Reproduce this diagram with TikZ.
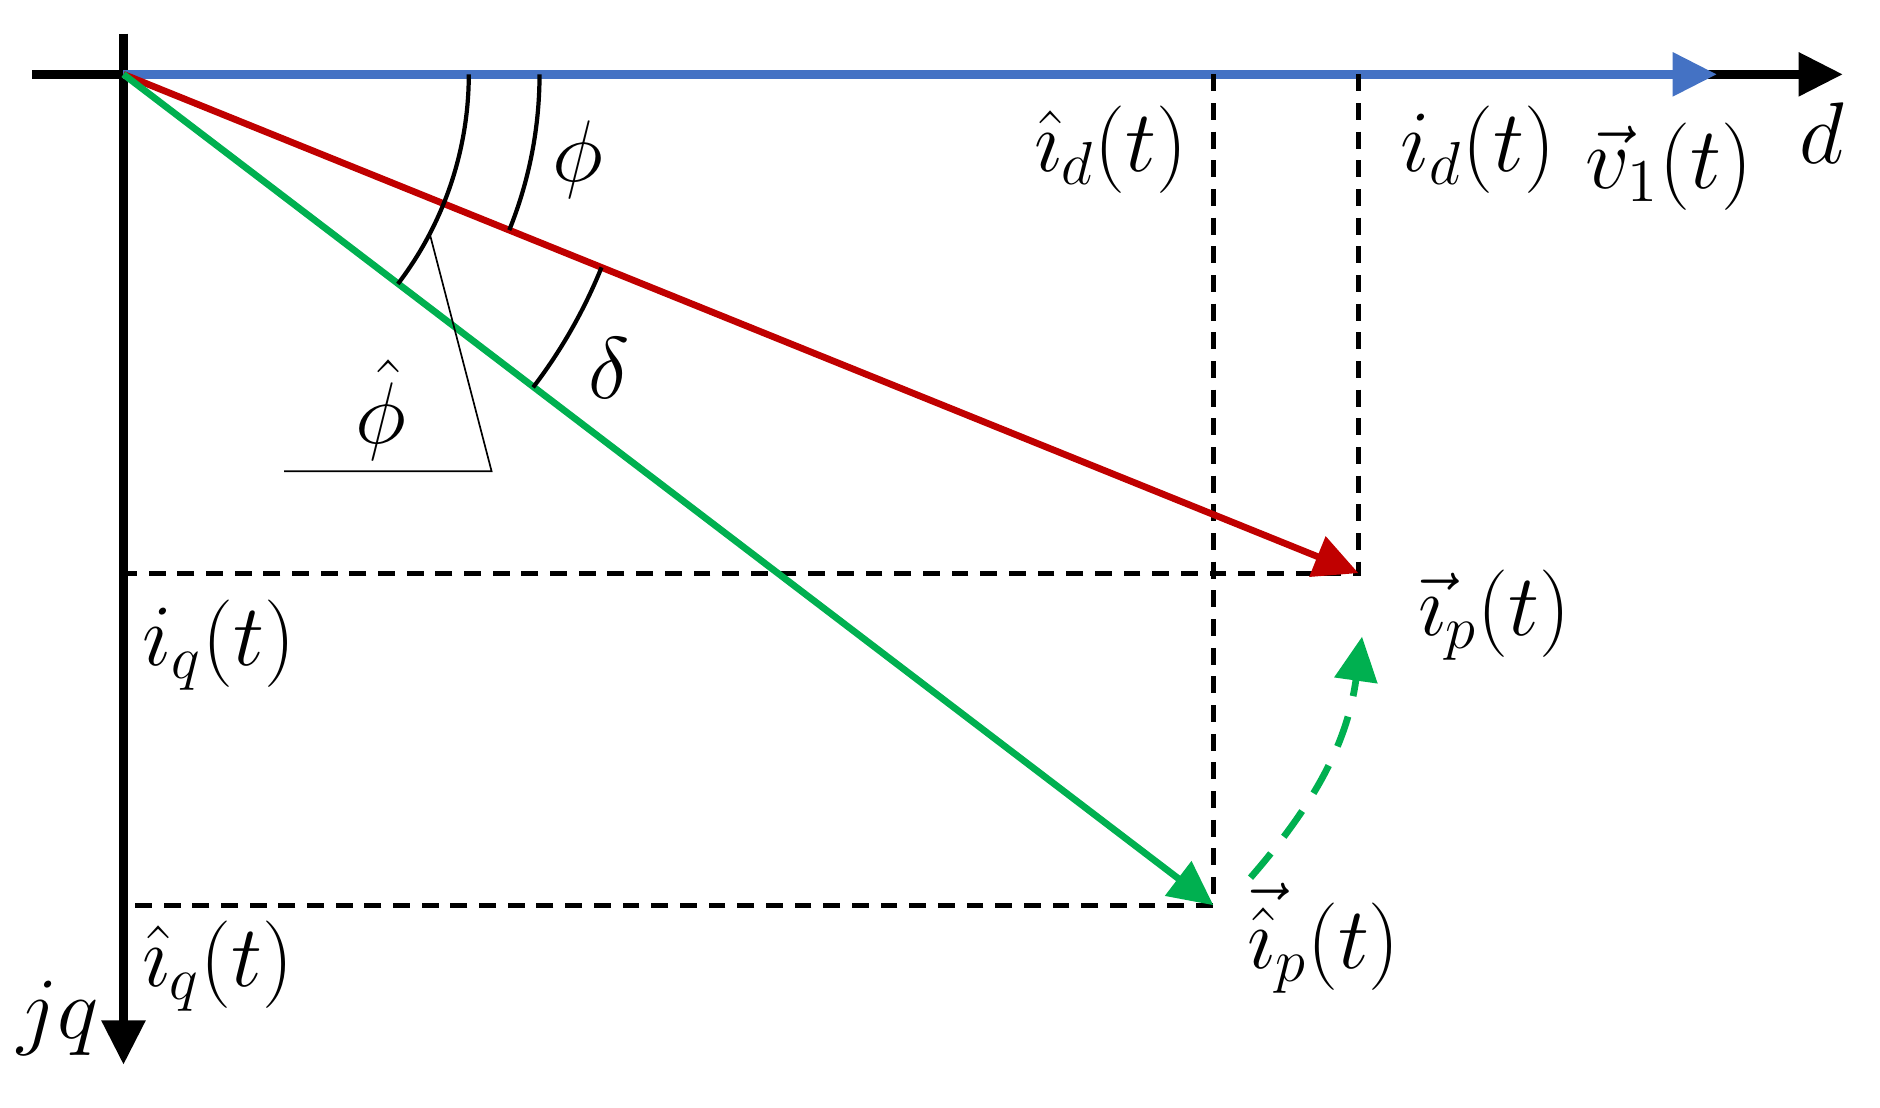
\documentclass[tikz,border=0pt]{standalone}
\usepackage{amsmath}
\usepackage{tikz}
\usepackage{xcolor}
\usetikzlibrary{arrows.meta,calc}
\definecolor{vblue}{RGB}{68,114,196}
\definecolor{ired}{RGB}{192,0,0}
\definecolor{igreen}{RGB}{0,176,80}
\tikzset{
  lbl/.style={font=\fontsize{19.5}{23}\selectfont,inner sep=0pt},
  proj/.style={line width=1.2pt,dash pattern=on 4pt off 2.8pt},
  tri/.style={-{Triangle[length=10.5pt,width=10pt]}},
  angarc/.style={line width=1pt}
}

\begin{document}
\begin{tikzpicture}[x=0.01cm,y=-0.01cm]
\useasboundingbox (0,0) rectangle (1568,924);
\coordinate (O) at (103,62);
\coordinate (dL) at (27,62);
\coordinate (dR) at (1537,62);
\coordinate (qT) at (103,28);
\coordinate (qB) at (103,888);
\coordinate (v1) at (1432,62);
\coordinate (ip) at (1133,478);
\coordinate (iph) at (1012,755);
\coordinate (rs) at (1043,732);
\coordinate (re) at (1136,531);
% axes
\draw[line width=2pt,tri] (dL) -- (dR);
\draw[line width=2pt,tri] (qT) -- (qB);
\draw[line width=2pt,vblue,tri] (O) -- (v1);
% projections
\draw[proj] (ip |- O) -- (ip) -- (ip -| O);
\draw[proj] (iph |- O) -- (iph) -- (iph -| O);
% vectors
\draw[line width=1.6pt,ired,tri] (O) -- (ip);
\draw[line width=1.6pt,igreen,tri] (O) -- (iph);
\draw[line width=1.6pt,igreen,dash pattern=on 7.5pt off 5pt,tri] (rs) to[out=49,in=-98] (re);
% angles
\draw[angarc] (O) ++(0:288) arc[start angle=0,end angle=37.38,radius=288];
\draw[angarc] (O) ++(0:347) arc[start angle=0,end angle=21.99,radius=347];
\draw[angarc] (O) ++(21.99:430) arc[start angle=21.99,end angle=37.38,radius=430];
\coordinate (lead) at ($(O)+(27.5:288)$);
\draw[line width=0.4pt] (lead) -- (410,393) -- (237,393);
% labels
\node[lbl] (phi) at (482,133) {$\phi$};
\node[lbl] (delta) at (508,307) {$\delta$};
\node[lbl] (phih) at (318,342) {$\hat{\phi}$};
\node[lbl,anchor=base west] (idh) at (862,143) {$\hat{\imath}_d(t)$};
\node[lbl,anchor=base west] (id) at (1167,143) {$i_d(t)$};
\node[lbl,anchor=base west] (vv) at (1322,157) {$\vec{v}_1(t)$};
\node[lbl,anchor=base west] (dlab) at (1500,136) {$d$};
\node[lbl,anchor=base west] (iq) at (118,555) {$i_q(t)$};
\node[lbl,anchor=base west] (iqh) at (118,823) {$\hat{\imath}_q(t)$};
\node[lbl,anchor=base west] (jq) at (14,866) {$jq$};
\node[lbl,anchor=base west] (ipl) at (1182,530) {$\vec{\imath}_p(t)$};
\node[lbl,anchor=base west] (iphl) at (1040,808) {$\vec{\hat{\imath}}_p(t)$};
\end{tikzpicture}
\end{document}
